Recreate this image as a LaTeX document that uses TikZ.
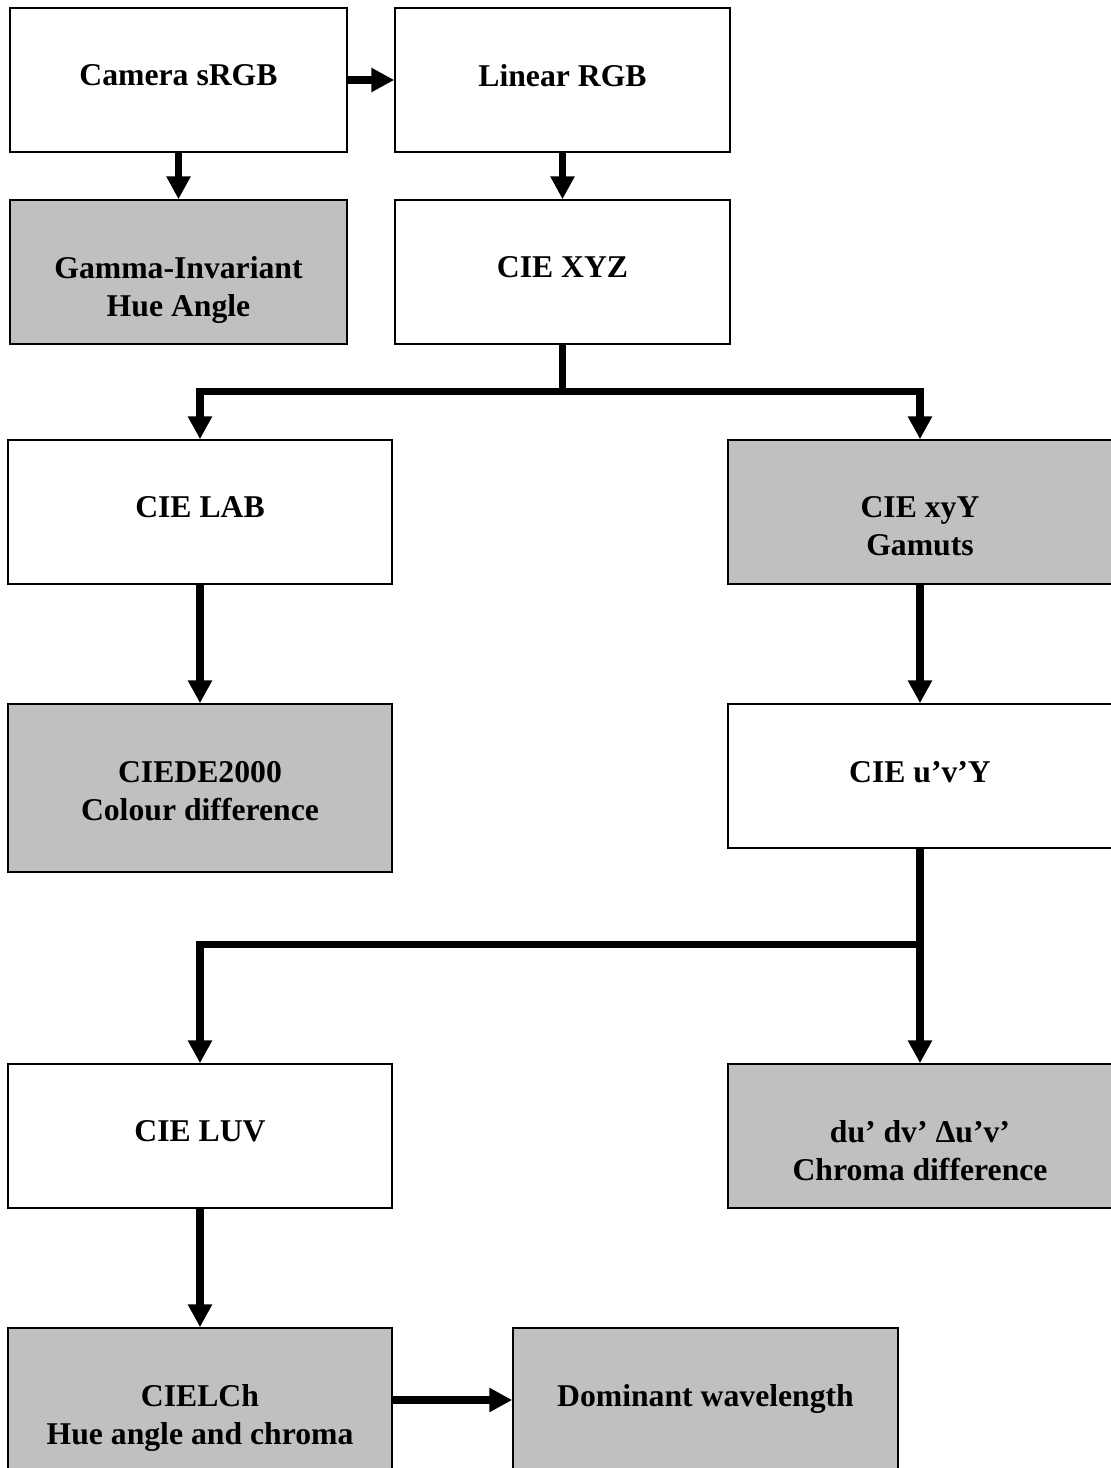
\documentclass[tikz,border=0pt]{standalone}
\usepackage{fontspec}
\setmainfont{Liberation Serif}
\usetikzlibrary{arrows.meta}
\definecolor{boxgray}{RGB}{192,192,192}

\begin{document}
\begin{tikzpicture}[x=1pt,y=-1pt,
  box/.style={draw,line width=1.5pt,inner sep=0pt,minimum width=384pt,minimum height=144pt},
  shaded/.style={box,fill=boxgray},
  txt/.style={anchor=north,yshift=-57.5pt,align=center,inner sep=0pt,
    font=\bfseries\fontsize{31.7pt}{38pt}\selectfont},
  flow/.style={line width=7.5pt,-{Triangle[width=23pt,length=23pt]}}]
\useasboundingbox (0,0) rectangle (1111,1468);

% top row
\node[box,minimum width=337pt,label={[txt,name=cam-t]north:Camera sRGB}] (cam) at (178.5,80) {};
\node[box,minimum width=335pt,label={[txt,name=lin-t]north:Linear RGB}] (lin) at (562.5,80) {};
\node[shaded,minimum width=337pt,label={[txt,name=gam-t]north:{Gamma-Invariant\\Hue Angle}}] (gam) at (178.5,272) {};
\node[box,minimum width=335pt,label={[txt,name=xyz-t]north:CIE XYZ}] (xyz) at (562.5,272) {};

% middle
\node[box,label={[txt,name=lab-t]north:CIE LAB}] (lab) at (200,512) {};
\node[shaded,label={[txt,name=xyy-t]north:{CIE xyY\\Gamuts}}] (xyy) at (920,512) {};
\node[shaded,minimum height=168pt,label={[txt,name=de-t]north:{CIEDE2000\\Colour difference}}] (de) at (200,788) {};
\node[box,label={[txt,name=uv-t]north:CIE u’v’Y}] (uv) at (920,776) {};

% bottom
\node[box,label={[txt,name=luv-t]north:CIE LUV}] (luv) at (200,1136) {};
\node[shaded,label={[txt,name=chr-t]north:{du’ dv’ Δu’v’\\Chroma difference}}] (chr) at (920,1136) {};
\node[shaded,label={[txt,name=lch-t]north:{CIELCh\\Hue angle and chroma}}] (lch) at (200,1400) {};
\node[shaded,minimum width=385pt,label={[txt,name=dom-t]north:Dominant wavelength}] (dom) at (705.5,1400) {};

\coordinate (fork1) at (562.5,391.5);
\coordinate (fork2) at (920,944.5);

\draw[flow] (cam) -- (lin);
\draw[flow] (cam) -- (gam);
\draw[flow] (lin) -- (xyz);
\draw[flow] (xyz.south) -- (fork1) -| (lab.north);
\draw[flow] (fork1) -| (xyy.north);
\draw[flow] (lab) -- (de);
\draw[flow] (xyy) -- (uv);
\draw[flow] (uv) -- (chr);
\draw[flow] (fork2) -| (luv.north);
\draw[flow] (luv) -- (lch);
\draw[flow] (lch) -- (dom);

\end{tikzpicture}
\end{document}
